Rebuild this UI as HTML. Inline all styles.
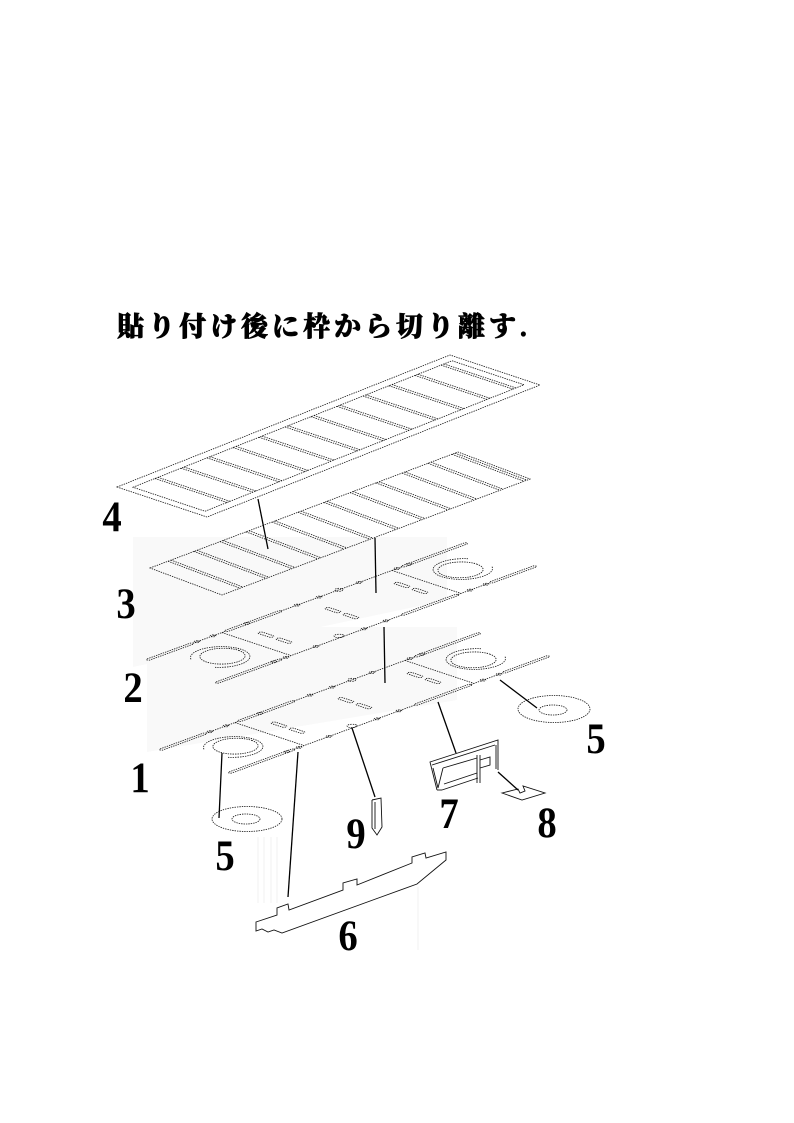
<!DOCTYPE html>
<html><head><meta charset="utf-8">
<style>
html,body{margin:0;padding:0;background:#fff;}
svg{display:block;}
svg line, svg rect, svg circle, svg ellipse, svg polyline, svg polygon, svg path{vector-effect:non-scaling-stroke;}
.d{fill:none;stroke:#111;stroke-width:0.8;stroke-dasharray:1.4 1;}
.s{fill:none;stroke:#111;stroke-width:0.9;}
.ld{fill:none;stroke:#000;stroke-width:1.3;}
.num{font-family:"Liberation Serif",serif;font-weight:bold;font-size:43px;fill:#000;}
</style></head>
<body>
<svg width="794" height="1123" viewBox="0 0 794 1123" xmlns="http://www.w3.org/2000/svg">
<rect width="794" height="1123" fill="#fff"/>

<!-- faint background shading -->
<polygon points="133,537 447,537 447,600 133,667" fill="#f9f9f9"/>
<polygon points="147,627 457,627 457,700 147,752" fill="#f9f9f9"/>
<g stroke="#f0f0f0" stroke-width="1">
<line x1="258" y1="837" x2="258" y2="903"/><line x1="264" y1="837" x2="264" y2="903"/>
<line x1="271" y1="837" x2="271" y2="903"/><line x1="277" y1="837" x2="277" y2="903"/>
<line x1="418" y1="887" x2="418" y2="950"/>
</g>

<!-- title -->
<text x="117" y="336" font-family="'Liberation Serif','Noto Serif CJK SC','Noto Serif CJK JP',serif" font-weight="900" font-size="27" letter-spacing="4" fill="#000" stroke="#000" stroke-width="0.7">貼り付け後に枠から切り離す.</text>

<!-- Plate 4 : frame -->
<g class="d" transform="matrix(1,-0.3964,1,0.3333,117,487)">
<rect x="0" y="0" width="333" height="90"/>
<rect x="7" y="9" width="319" height="72"/>
<path d="M29 9V81M32 9V81M55 9V81M58 9V81M81 9V81M84 9V81M107 9V81M110 9V81M133 9V81M136 9V81M159 9V81M162 9V81M185 9V81M188 9V81M211 9V81M214 9V81M237 9V81M240 9V81M263 9V81M266 9V81M289 9V81M292 9V81M315 9V81M318 9V81"/>
</g>

<!-- Plate 3 : grille -->
<g class="d" transform="matrix(1,-0.3766,1,0.375,150,568)">
<rect x="0" y="0" width="308" height="72"/>
<path d="M18 0V72M21 0V72M44 0V72M47 0V72M70 0V72M73 0V72M96 0V72M99 0V72M122 0V72M125 0V72M148 0V72M151 0V72M174 0V72M177 0V72M200 0V72M203 0V72M226 0V72M229 0V72M252 0V72M255 0V72M278 0V72M281 0V72M302 0V72M305 0V72"/>
</g>

<!-- Plate 2 : underframe -->
<g class="d" transform="matrix(1,-0.3656,1,0.3333,147,660)">
<line x1="46" y1="0" x2="78" y2="0"/><line x1="134" y1="0" x2="255" y2="0"/>
<line x1="65" y1="69" x2="186" y2="69"/><line x1="242" y1="69" x2="274" y2="69"/>
<rect x="0" y="-1.5" width="46" height="3" rx="1.5"/>
<rect x="78" y="-1.5" width="56" height="3" rx="1.5"/>
<rect x="255" y="-1.5" width="65" height="3" rx="1.5"/>
<rect x="0" y="67.5" width="65" height="3" rx="1.5"/>
<rect x="186" y="67.5" width="56" height="3" rx="1.5"/>
<rect x="274" y="67.5" width="46" height="3" rx="1.5"/>
<line x1="75" y1="0" x2="75" y2="69"/>
<line x1="245" y1="0" x2="245" y2="69"/>
<circle cx="41.5" cy="34" r="16"/>
<path d="M22 22A21 21 0 1 1 22 46"/>
<circle cx="278.5" cy="35" r="16"/>
<path d="M298 47A21 21 0 1 1 298 23"/>
<rect x="91" y="19" width="4" height="14" rx="2"/><rect x="91" y="37" width="4" height="14" rx="2"/>
<rect x="158" y="19" width="4" height="14" rx="2"/><rect x="158" y="37" width="4" height="14" rx="2"/>
<rect x="227" y="19" width="4" height="14" rx="2"/><rect x="227" y="37" width="4" height="14" rx="2"/>
<circle cx="50" cy="0" r="2"/><circle cx="66" cy="0" r="2"/><circle cx="100" cy="0" r="2"/>
<circle cx="150" cy="0" r="2"/><circle cx="172" cy="0" r="2"/><circle cx="192" cy="0" r="3"/>
<circle cx="212" cy="0" r="2"/><circle cx="250" cy="0" r="2"/><circle cx="262" cy="0" r="2"/>
<circle cx="58" cy="69" r="2"/><circle cx="70" cy="69" r="2"/><circle cx="100" cy="69" r="2"/>
<circle cx="126" cy="66" r="3.5"/><circle cx="148" cy="69" r="2"/><circle cx="170" cy="69" r="2"/>
<circle cx="254" cy="69" r="2"/><circle cx="270" cy="69" r="2"/>
</g>

<!-- Plate 1 : underframe -->
<g class="d" transform="matrix(1,-0.3656,1,0.3333,160,750)">
<line x1="46" y1="0" x2="78" y2="0"/><line x1="134" y1="0" x2="255" y2="0"/>
<line x1="65" y1="69" x2="186" y2="69"/><line x1="242" y1="69" x2="274" y2="69"/>
<rect x="0" y="-1.5" width="46" height="3" rx="1.5"/>
<rect x="78" y="-1.5" width="56" height="3" rx="1.5"/>
<rect x="255" y="-1.5" width="65" height="3" rx="1.5"/>
<rect x="0" y="67.5" width="65" height="3" rx="1.5"/>
<rect x="186" y="67.5" width="56" height="3" rx="1.5"/>
<rect x="274" y="67.5" width="46" height="3" rx="1.5"/>
<line x1="75" y1="0" x2="75" y2="69"/>
<line x1="245" y1="0" x2="245" y2="69"/>
<circle cx="41.5" cy="34" r="16"/>
<path d="M22 22A21 21 0 1 1 22 46"/>
<circle cx="278.5" cy="35" r="16"/>
<path d="M298 47A21 21 0 1 1 298 23"/>
<rect x="91" y="19" width="4" height="14" rx="2"/><rect x="91" y="37" width="4" height="14" rx="2"/>
<rect x="158" y="19" width="4" height="14" rx="2"/><rect x="158" y="37" width="4" height="14" rx="2"/>
<rect x="227" y="19" width="4" height="14" rx="2"/><rect x="227" y="37" width="4" height="14" rx="2"/>
<circle cx="50" cy="0" r="2"/><circle cx="66" cy="0" r="2"/><circle cx="100" cy="0" r="2"/>
<circle cx="150" cy="0" r="2"/><circle cx="172" cy="0" r="2"/><circle cx="192" cy="0" r="3"/>
<circle cx="212" cy="0" r="2"/><circle cx="250" cy="0" r="2"/><circle cx="262" cy="0" r="2"/>
<circle cx="58" cy="69" r="2"/><circle cx="70" cy="69" r="2"/><circle cx="100" cy="69" r="2"/>
<circle cx="126" cy="66" r="3.5"/><circle cx="148" cy="69" r="2"/><circle cx="170" cy="69" r="2"/>
<circle cx="254" cy="69" r="2"/><circle cx="270" cy="69" r="2"/>
</g>

<!-- Part 5 disks -->
<g class="d">
<ellipse cx="247" cy="819" rx="35" ry="12.5"/>
<ellipse cx="246" cy="819" rx="14" ry="5"/>
<ellipse cx="554" cy="709" rx="36" ry="13.5"/>
<ellipse cx="553" cy="710" rx="14" ry="5"/>
</g>

<!-- Part 6 -->
<polygon class="s" stroke="#333" points="256,922 277,915 277,908 288,904 289,910 343,890 343,883 357,879 357,885 412,863 412,857 425,853 426,858 446,852 446,860 417,884 282,933 274,930 268,932 262,929 256,931"/>

<!-- Part 9 -->
<polyline class="s" points="372,800 372,828 377,835 382,827 381,798 372,800"/>
<line class="s" x1="375" y1="802" x2="375" y2="829"/>

<!-- Part 7 -->
<g class="s">
<polyline points="437,790 430,762 498,740 498,770"/>
<line x1="432" y1="765" x2="495" y2="745"/>
<line x1="496" y1="745" x2="496" y2="769"/>
<line x1="437" y1="790" x2="442" y2="790"/>
<line x1="442" y1="790" x2="478" y2="778"/>
<line x1="443" y1="768" x2="477" y2="758"/>
<line x1="444" y1="784" x2="477" y2="773"/>
<line x1="477" y1="755" x2="477" y2="783"/>
<line x1="480" y1="755" x2="480" y2="783"/>
<polyline points="480,760 490,757 490,765 480,768"/>
<polyline points="433,768 438,788 443,768"/>
</g>

<!-- Part 8 -->
<polygon class="s" points="502,793 518,789 520,793 525,791 523,786 545,793 522,800"/>

<!-- leader lines -->
<g class="ld">
<line x1="258" y1="499" x2="268" y2="549"/>
<line x1="375" y1="538" x2="376" y2="593"/>
<line x1="384" y1="627" x2="385" y2="683"/>
<line x1="222" y1="753" x2="219" y2="818"/>
<line x1="298" y1="752" x2="288" y2="897"/>
<line x1="352" y1="728" x2="375" y2="797"/>
<line x1="438" y1="702" x2="456" y2="753"/>
<line x1="500" y1="680" x2="537" y2="708"/>
<line x1="498" y1="772" x2="518" y2="790"/>
</g>

<!-- numbers -->
<g class="num" text-anchor="middle">
<text transform="translate(112,531) scale(0.9,1)">4</text>
<text transform="translate(126,618) scale(0.9,1)">3</text>
<text transform="translate(133,702) scale(0.9,1)">2</text>
<text transform="translate(140,792) scale(0.9,1)">1</text>
<text transform="translate(225,870) scale(0.9,1)">5</text>
<text transform="translate(356,848) scale(0.9,1)">9</text>
<text transform="translate(449,828) scale(0.9,1)">7</text>
<text transform="translate(547,837) scale(0.9,1)">8</text>
<text transform="translate(348,950) scale(0.9,1)">6</text>
<text transform="translate(596,753) scale(0.9,1)">5</text>
</g>
</svg>
</body></html>
